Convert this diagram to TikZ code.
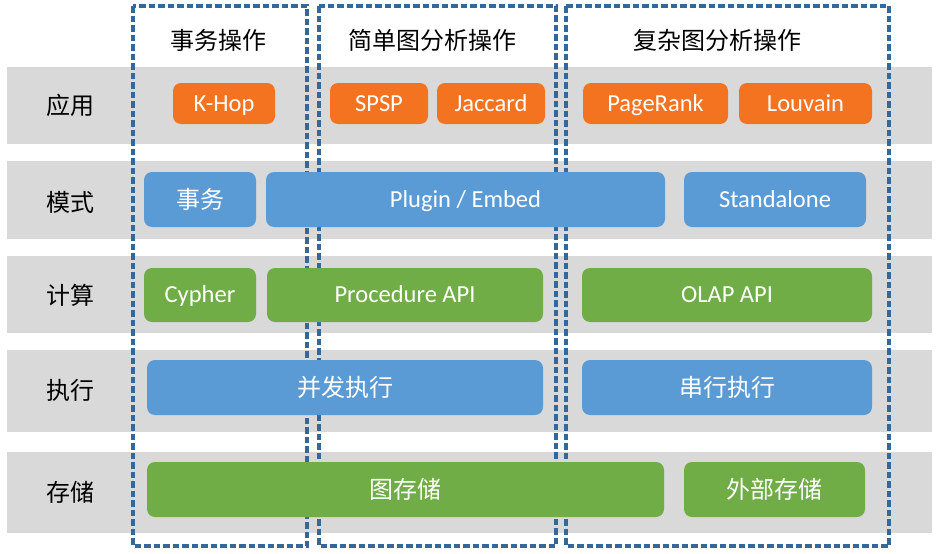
\documentclass[tikz,border=0pt]{standalone}
\usepackage{fontspec}
\setmainfont{Carlito}
\newfontfamily\cjk{Noto Sans CJK SC}
\usepackage{xcolor}
\definecolor{bandgray}{HTML}{D9D9D9}
\definecolor{apporange}{HTML}{F47320}
\definecolor{modeblue}{HTML}{5B9BD5}
\definecolor{calcgreen}{HTML}{70AD47}
\definecolor{dashblue}{HTML}{35689A}

\begin{document}
\begin{tikzpicture}[x=1pt, y=-1pt,
        band/.style={fill=bandgray, draw=none},
        column/.style={draw=dashblue, line width=3.4pt, dash pattern=on 6.5pt off 3pt},
        box/.style={rounded corners=8pt, draw=none, text=white, inner sep=0pt,
            font=\fontsize{24.5}{28}\selectfont, text height=15.8pt, text depth=0pt},
        cbox/.style={box, font=\cjk\fontsize{24}{28}\selectfont, text height=21.1pt, text depth=2.9pt},
        label/.style={font=\cjk\fontsize{24}{28}\selectfont, text=black, text height=21.1pt, text depth=2.9pt}]
        \useasboundingbox (0,0) rectangle (940,554);

        % Bands
        \fill[band] (7,67) rectangle (932,144);
        \fill[band] (7,161) rectangle (932,239);
        \fill[band] (7,256) rectangle (932,333);
        \fill[band] (7,350) rectangle (932,432);
        \fill[band] (7,452) rectangle (932,533);

        % Columns
        \draw[column] (133,6) rectangle (307,546);
        \draw[column] (319,6) rectangle (556,546);
        \draw[column] (566,6) rectangle (889,546);
        \node[label] (txop) at (218,40) {事务操作};
        \node[label] (simple) at (432,40) {简单图分析操作};
        \node[label] (complex) at (717,40) {复杂图分析操作};

        % Row labels
        \node[label] (app) at (70,105) {应用};
        \node[label] (mode) at (70,202) {模式};
        \node[label] (calc) at (70,295) {计算};
        \node[label] (exec) at (70,390) {执行};
        \node[label] (store) at (70,492) {存储};

        % 应用
        \node[box, fill=apporange, minimum width=102pt, minimum height=41pt] (khop) at (224,103.5) {K-Hop};
        \node[box, fill=apporange, minimum width=98pt, minimum height=41pt] (spsp) at (379,103.5) {SPSP};
        \node[box, fill=apporange, minimum width=108pt, minimum height=41pt] (jaccard) at (491,103.5) {Jaccard};
        \node[box, fill=apporange, minimum width=145pt, minimum height=41pt] (pagerank) at (655.5,103.5) {PageRank};
        \node[box, fill=apporange, minimum width=133pt, minimum height=41pt] (louvain) at (805.5,103.5) {Louvain};

        % 模式
        \node[cbox, fill=modeblue, minimum width=112pt, minimum height=55pt] (txmode) at (200,199.5) {事务};
        \node[box, fill=modeblue, minimum width=399pt, minimum height=55pt] (plugin) at (465.5,199.5) {Plugin / Embed};
        \node[box, fill=modeblue, minimum width=182pt, minimum height=55pt] (standalone) at (775,199.5) {Standalone};

        % 计算
        \node[box, fill=calcgreen, minimum width=112pt, minimum height=54pt] (cypher) at (200,295) {Cypher};
        \node[box, fill=calcgreen, minimum width=276pt, minimum height=54pt] (procedure) at (405,295) {Procedure API};
        \node[box, fill=calcgreen, minimum width=290pt, minimum height=54pt] (olap) at (727,295) {OLAP API};

        % 执行
        \node[cbox, fill=modeblue, minimum width=396pt, minimum height=55pt] (parallel) at (345,387.5) {并发执行};
        \node[cbox, fill=modeblue, minimum width=290pt, minimum height=55pt] (serial) at (727,387.5) {串行执行};

        % 存储
        \node[cbox, fill=calcgreen, minimum width=517pt, minimum height=55pt] (graphstore) at (405.5,489.5) {图存储};
        \node[cbox, fill=calcgreen, minimum width=181pt, minimum height=55pt] (extstore) at (774.5,489.5) {外部存储};
    \end{tikzpicture}
\end{document}
